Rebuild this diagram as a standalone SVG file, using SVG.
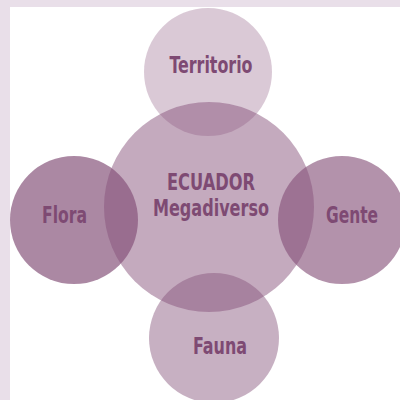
<svg xmlns="http://www.w3.org/2000/svg" width="400" height="400" viewBox="0 0 400 400">
<style>
.c{fill:#86527a}
.t{font-family:"DejaVu Sans Condensed","Liberation Sans",sans-serif;font-weight:bold;font-size:22.5px;fill:#7e4a73;text-anchor:middle}
</style>
<rect x="0" y="0" width="400" height="400" fill="#e9dfe9"/>
<rect x="10" y="7" width="390" height="393" fill="#ffffff"/>
<g id="connectors"></g>
<g id="territorio"><circle class="c" cx="208" cy="72" r="64" fill-opacity="0.31"/><text class="t" x="211" y="73" textLength="83" lengthAdjust="spacingAndGlyphs">Territorio</text></g>
<g id="fauna"><circle class="c" cx="214" cy="338" r="65" fill-opacity="0.46"/><text class="t" x="220" y="354" textLength="54" lengthAdjust="spacingAndGlyphs">Fauna</text></g>
<g id="flora"><circle class="c" cx="74" cy="220" r="64" fill-opacity="0.69"/><text class="t" x="64.5" y="223" textLength="45" lengthAdjust="spacingAndGlyphs">Flora</text></g>
<g id="gente"><circle class="c" cx="342" cy="220" r="64" fill-opacity="0.63"/><text class="t" x="352" y="223" textLength="52" lengthAdjust="spacingAndGlyphs">Gente</text></g>
<g id="ecuador"><circle class="c" cx="209" cy="207" r="105" fill-opacity="0.49"/><text class="t" x="211" y="190" textLength="88" lengthAdjust="spacingAndGlyphs">ECUADOR</text><text class="t" x="211" y="216" textLength="116" lengthAdjust="spacingAndGlyphs">Megadiverso</text></g>
</svg>
